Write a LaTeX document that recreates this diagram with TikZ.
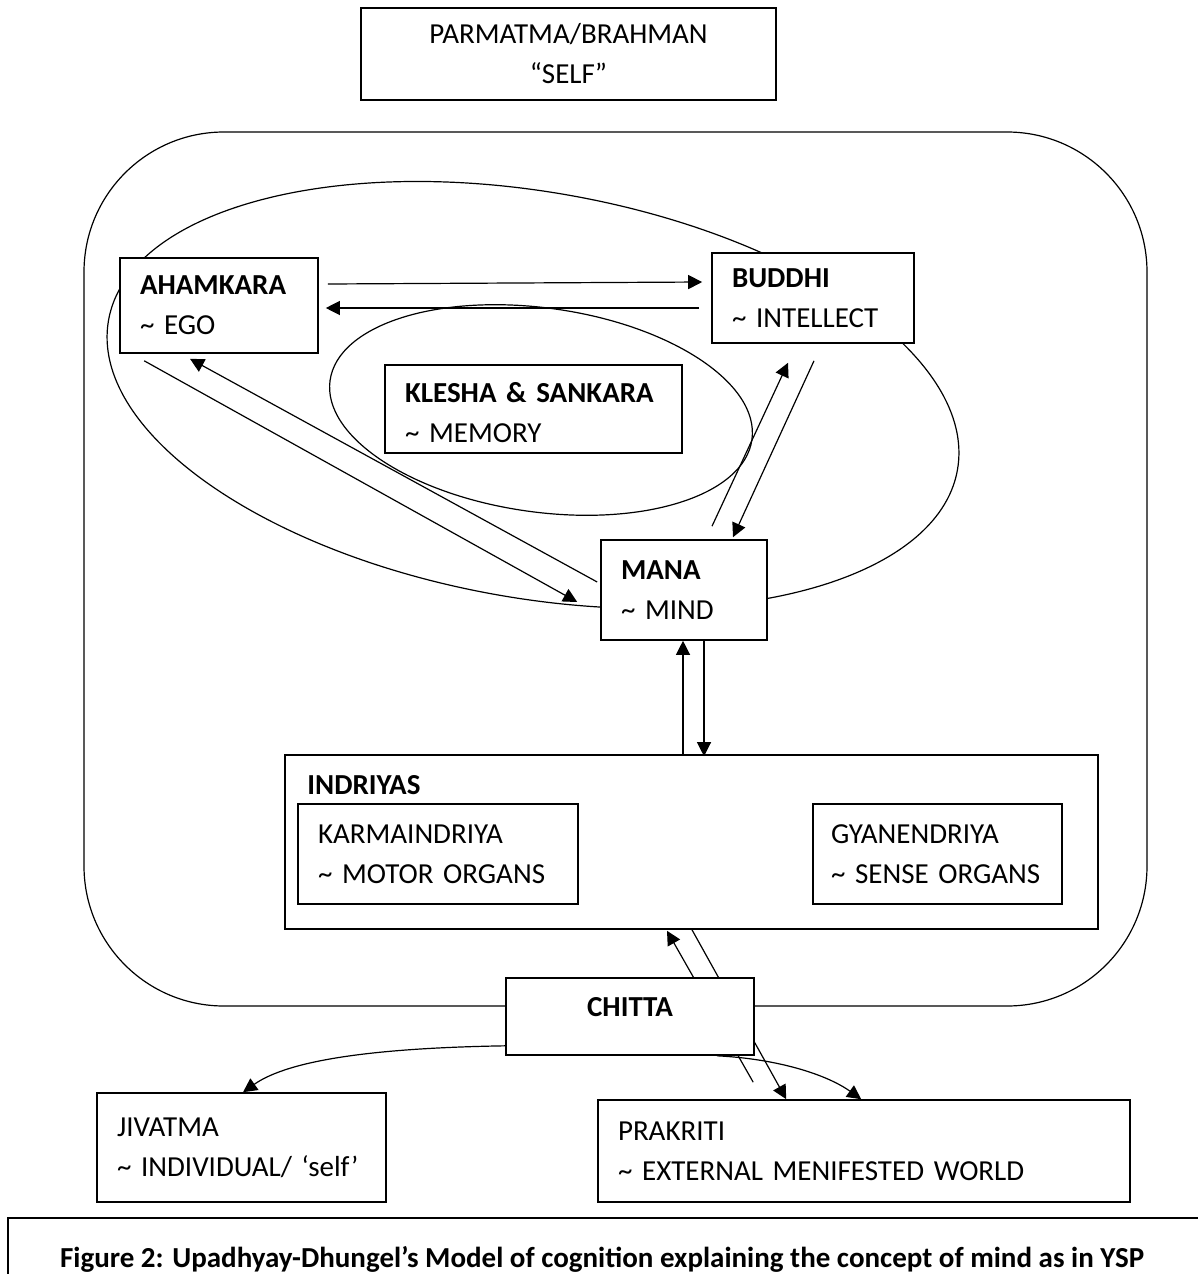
\documentclass[tikz,border=0pt]{standalone}
\usepackage{fontspec}
\setmainfont{Carlito}
\usetikzlibrary{arrows.meta}

\tikzset{
  box/.style={draw,line width=0.8pt,fill=white,align=left,inner xsep=10pt,inner ysep=2pt,
    font=\fontsize{14.5}{20}\selectfont},
  ring/.style={line width=0.6pt},
  arr/.style={line width=0.6pt,-{Triangle[length=7pt,width=7pt]}},
}

\begin{document}
\begin{tikzpicture}[x=0.5pt,y=-0.5pt]
  \useasboundingbox (0,0) rectangle (1198,1274);
  \draw[ring,rounded corners=70pt] (84,132) rectangle (1147,1006);
  \draw[ring,rotate around={-10:(533,395)}] (533,395) ellipse (215.5pt and 101.5pt);
  \draw[ring,rotate around={-8:(541,410)}] (541,410) ellipse (106.5pt and 51pt);

  \node[box,align=center,text width=187.5pt,minimum height=46pt] (parm) at (568.5,54)
    {PARMATMA/BRAHMAN\\“SELF”};
  \node[box,text width=79pt,minimum height=47.5pt] (aham) at (219,305.5)
    {\textbf{AHAMKARA}\\\textasciitilde{} EGO};
  \node[box,text width=81pt,minimum height=45pt] (buddhi) at (813,298)
    {\textbf{BUDDHI}\\\textasciitilde{} INTELLECT};
  \node[box,text width=128.5pt,minimum height=44pt,text height=14pt] (klesha) at (533.5,409)
    {\textbf{KLESHA \& SANKARA}\\\textasciitilde{} MEMORY};
  \node[box,text width=63pt,minimum height=50pt] (mana) at (684,590)
    {\textbf{MANA}\\\textasciitilde{} MIND};
  \node[box,minimum width=406.5pt,minimum height=87pt] (indriyas) at (691.5,842) {};
  \node[font=\fontsize{14.5}{20}\selectfont\bfseries,anchor=west,inner sep=0pt] (indlbl) at (307,785) {INDRIYAS};
  \node[box,text width=120pt,minimum height=50pt] (karma) at (438,854)
    {KARMAINDRIYA\\\textasciitilde{} MOTOR ORGANS};
  \node[box,inner xsep=9pt,text width=106.5pt,minimum height=50pt] (gyan) at (937.5,854)
    {GYANENDRIYA\\\mbox{\textasciitilde{} SENSE ORGANS}};
  \node[box,text width=124.5pt,minimum height=54.5pt] (jiva) at (241.5,1147.5)
    {JIVATMA\\\textasciitilde{} INDIVIDUAL/ ‘self’};
  \node[box,text width=246pt,minimum height=51pt] (prak) at (864,1151)
    {PRAKRITI\\\textasciitilde{} EXTERNAL MENIFESTED WORLD};

  \draw[arr] ([shift={(9,-21.5)}]aham.east) -- ([shift={(-9,-16)}]buddhi.west);
  \draw[arr] ([shift={(-12,10)}]buddhi.west) -- ([shift={(7,2.5)}]aham.east);
  \draw[arr] ([shift={(25,7)}]aham.south west) -- ([shift={(-23,12)}]mana.west);
  \draw[arr] ([shift={(-3,-8)}]mana.west) -- ([shift={(-29,5)}]aham.south);
  \draw[arr] ([shift={(28,-13)}]mana.north) -- ([shift={(-25,19)}]buddhi.south);
  \draw[arr] ([shift={(1,17)}]buddhi.south) -- ([shift={(49,-2)}]mana.north);
  \draw[arr] ([shift={(-8.5,0)}]indriyas.north) -- ([shift={(-1,0)}]mana.south);
  \draw[arr] ([shift={(20,0)}]mana.south) -- ([shift={(12.5,2)}]indriyas.north);
  \draw[arr] ([shift={(0.5,0)}]indriyas.south) -- ([shift={(189,0)}]prak.north west);
  \draw[arr] ([shift={(156,-17)}]prak.north west) -- ([shift={(-24.5,1)}]indriyas.south);

  \node[box,align=center,text width=104pt,minimum height=38.5pt,text height=10pt,text depth=10pt] (chitta) at (630,1016.5)
    {\textbf{CHITTA}};
  \draw[arr] ([shift={(1,-10)}]chitta.south west) .. controls +(-127,2) and +(47,-33) .. ([shift={(1.5,0)}]jiva.north);
  \draw[arr] ([shift={(87,0)}]chitta.south) .. controls +(60,3) and +(-35,-25) .. ([shift={(264,0)}]prak.north west);

  \draw[line width=1.2pt] (1198,1218) -- (8,1218) -- (8,1274);
  \node[font=\fontsize{14.5}{20}\selectfont\bfseries] (caption) at (602,1259)
    {Figure 2: Upadhyay-Dhungel’s Model of cognition explaining the concept of mind as in YSP};
\end{tikzpicture}
\end{document}
